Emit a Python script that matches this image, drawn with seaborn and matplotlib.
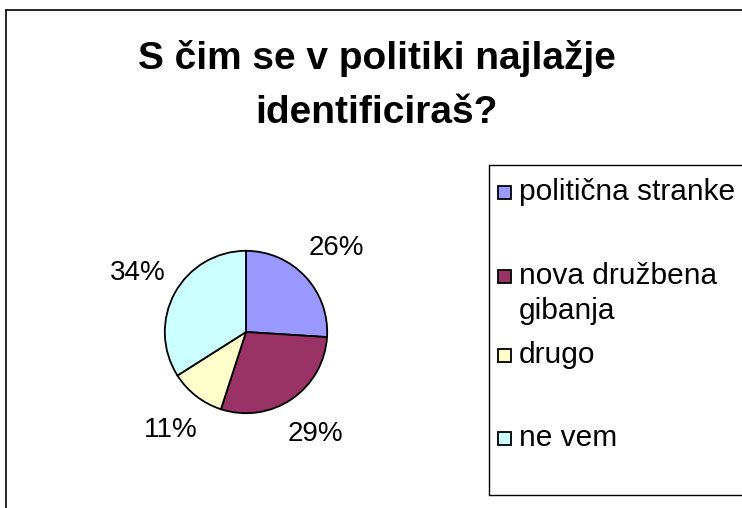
import seaborn as sns
import matplotlib.pyplot as plt
from matplotlib.lines import Line2D
from matplotlib.patches import Rectangle

categories = ["politična stranke", "nova družbena\ngibanja", "drugo", "ne vem"]
shares = [26, 29, 11, 34]
colors = ["#9999ff", "#993366", "#ffffcc", "#ccffff"]
title = "S čim se v politiki najlažje\nidentificiraš?"

sns.set_theme(style="white")
plt.rcParams["font.family"] = ["Liberation Sans", "DejaVu Sans"]
plt.rcParams["text.color"] = "black"

W, H = 742, 508
fig = plt.figure(figsize=(W / 100, H / 100), dpi=100)
fig.patch.set_facecolor("white")


def fx(x):
    return x / W


def fy(y):
    return 1 - y / H


# outer chart frame (right and bottom edges fall outside the picture)
fig.add_artist(Line2D([fx(6), 1.0], [fy(10), fy(10)], color="black", lw=1.2))
fig.add_artist(Line2D([fx(6), fx(6)], [fy(10), 0.0], color="black", lw=1.2))

for i, line in enumerate(title.split("\n")):
    fig.text(fx(377), fy(69 + 54 * i), line, ha="center", va="baseline",
             fontsize=28, fontweight="bold")

# pie
cx, cy, r = 246, 332, 82
ax = fig.add_axes([fx(cx - r), fy(cy + r), 2 * r / W, 2 * r / H])
ax.pie(shares, colors=colors, startangle=90, counterclock=False,
       autopct="%1.0f%%", pctdistance=1.52,
       wedgeprops=dict(edgecolor="black", linewidth=1.3),
       textprops=dict(fontsize=20, color="black"))
ax.set_xlim(-1.01, 1.01)
ax.set_ylim(-1.01, 1.01)
ax.set_aspect("equal")
ax.axis("off")

# legend box
fig.add_artist(Line2D([fx(489), 1.0], [fy(165), fy(165)], color="black", lw=1.0))
fig.add_artist(Line2D([fx(489), fx(489)], [fy(165), fy(495)], color="black", lw=1.0))
fig.add_artist(Line2D([fx(489), 1.0], [fy(495), fy(495)], color="black", lw=1.0))

legend_y = [192, 276, 355, 438]
for label, col, y in zip(categories, colors, legend_y):
    fig.add_artist(Rectangle((fx(498), fy(y + 7)), 13 / W, 13 / H,
                             facecolor=col, edgecolor="black", lw=1.3))
    for i, line in enumerate(label.split("\n")):
        fig.text(fx(519), fy(y + 35 * i), line, ha="left", va="center", fontsize=21.5)

fig.savefig("out.png", dpi=100, facecolor="white")
